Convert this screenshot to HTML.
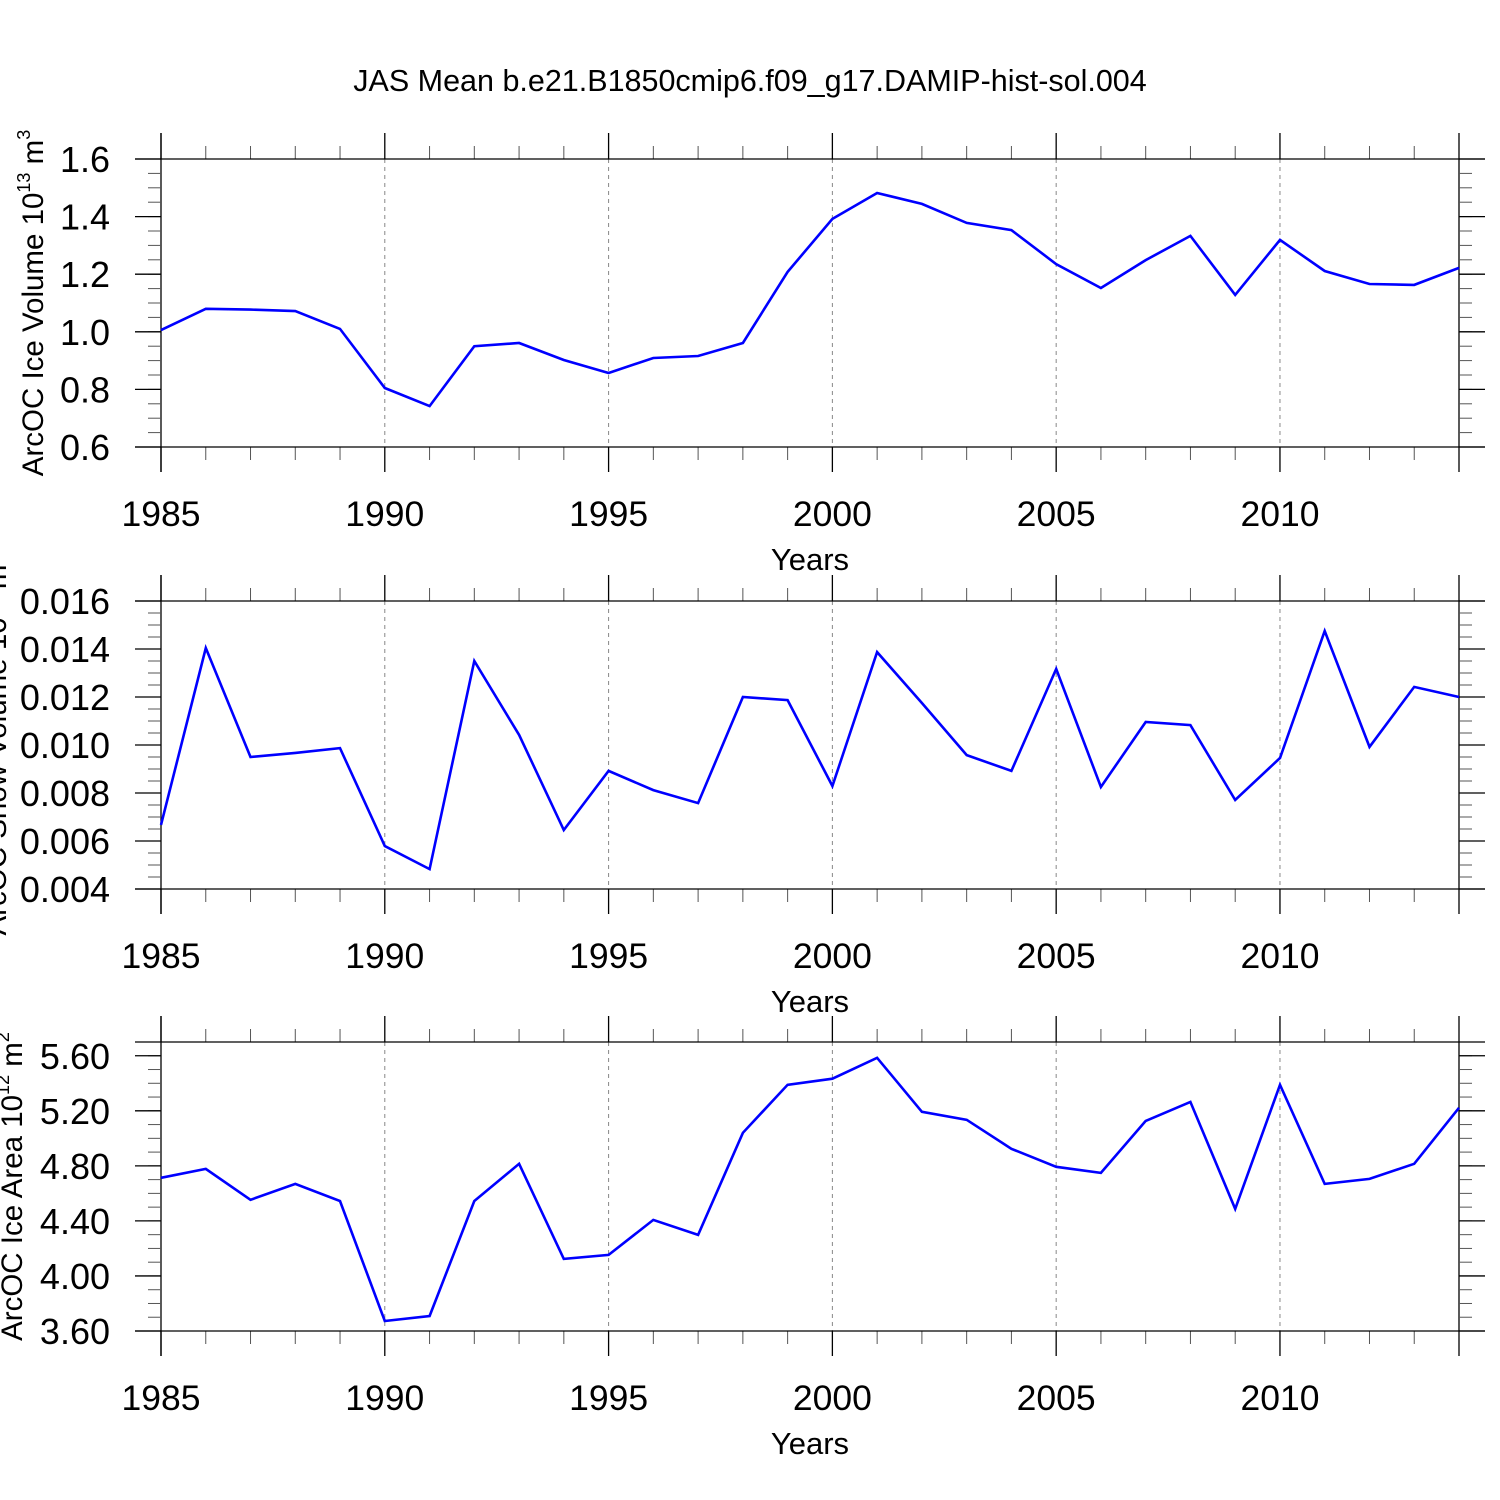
<!DOCTYPE html>
<html><head><meta charset="utf-8"><style>
html,body{margin:0;padding:0;background:#fff}
svg{display:block;font-family:"Liberation Sans",sans-serif}
</style></head><body>
<svg id="chart" width="1500" height="1500" viewBox="0 0 1500 1500">
<text x="750" y="91" font-size="30.5" text-anchor="middle">JAS Mean b.e21.B1850cmip6.f09_g17.DAMIP-hist-sol.004</text>
</svg>
<script>
const years = [1985,1986,1987,1988,1989,1990,1991,1992,1993,1994,1995,1996,1997,1998,1999,2000,2001,2002,2003,2004,2005,2006,2007,2008,2009,2010,2011,2012,2013,2014];
const iceVolume = [1.006,1.08,1.077,1.072,1.01,0.805,0.742,0.95,0.961,0.902,0.857,0.909,0.916,0.961,1.208,1.392,1.482,1.444,1.378,1.353,1.235,1.152,1.249,1.333,1.128,1.319,1.211,1.166,1.163,1.222];
const snowVolume = [0.00667,0.01404,0.0095,0.00967,0.00987,0.00579,0.00483,0.0135,0.01042,0.00646,0.00892,0.00812,0.00758,0.012,0.01187,0.00829,0.01387,0.01175,0.00958,0.00892,0.01317,0.00825,0.01096,0.01083,0.00771,0.00946,0.01475,0.00992,0.01242,0.012];
const iceArea = [4.713,4.778,4.553,4.669,4.545,3.673,3.709,4.545,4.815,4.124,4.153,4.407,4.298,5.04,5.389,5.433,5.585,5.193,5.135,4.924,4.793,4.749,5.127,5.265,4.487,5.389,4.669,4.705,4.815,5.222];
const xTickLabels = ["1985","1990","1995","2000","2005","2010"];
const volTicks = ["0.6","0.8","1.0","1.2","1.4","1.6"];
const snowTicks = ["0.004","0.006","0.008","0.010","0.012","0.014","0.016"];
const areaTicks = ["3.60","4.00","4.40","4.80","5.20","5.60"];

const NS="http://www.w3.org/2000/svg";
const svg=document.getElementById('chart');
function mk(tag,attrs,parent){const e=document.createElementNS(NS,tag);for(const k in attrs)e.setAttribute(k,attrs[k]);(parent||svg).appendChild(e);return e;}
const X0=161,X1=1459;
const xs=y=>X0+(y-1985)*(X1-X0)/(2014-1985);

function panel(cfg){
  const g=mk('g',{});
  
  
  const ys=v=>cfg.yb-(v-cfg.vmin)*(cfg.yb-cfg.yt)/(cfg.vmax-cfg.vmin);
  const topL=cfg.yt, botL=cfg.yb;
  const ax={stroke:'#000','stroke-width':1.3};
  for(let yr=1985;yr<=2014;yr++){
    const x=xs(yr);
    if(yr%5===0){
      if(yr!==1985){
        const dl=mk('line',{x1:x,x2:x,y1:topL,y2:botL,stroke:'#888','stroke-width':1,'stroke-dasharray':'4,4'},g);
        
        
      }
      mk('line',{x1:x,x2:x,y1:cfg.yt-26,y2:cfg.yt,...ax},g);
      mk('line',{x1:x,x2:x,y1:cfg.yb,y2:cfg.yb+25,...ax},g);
      const t=mk('text',{x:x,y:cfg.yb+79,'font-size':35.5,'text-anchor':'middle'},g);
      t.textContent=String(yr);
      
      
    } else {
      mk('line',{x1:x,x2:x,y1:cfg.yt-13,y2:cfg.yt,stroke:'#555','stroke-width':1},g);
      mk('line',{x1:x,x2:x,y1:cfg.yb,y2:cfg.yb+13,stroke:'#555','stroke-width':1},g);
    }
  }
  mk('line',{x1:X0,x2:X0,y1:cfg.yt-26,y2:cfg.yb+25,...ax},g);
  mk('line',{x1:X1,x2:X1,y1:cfg.yt-26,y2:cfg.yb+25,...ax},g);
  for(let v=cfg.vmin;v<=cfg.vmax+1e-9;v+=cfg.minor){
    const y=ys(v);
    mk('line',{x1:X0-13,x2:X0,y1:y,y2:y,stroke:'#555','stroke-width':1},g);
    mk('line',{x1:X1,x2:X1+13,y1:y,y2:y,stroke:'#555','stroke-width':1},g);
  }
  cfg.ticks.forEach(lbl=>{
    const y=ys(parseFloat(lbl));
    mk('line',{x1:X0-26,x2:X0,y1:y,y2:y,...ax},g);
    mk('line',{x1:X1,x2:X1+26,y1:y,y2:y,...ax},g);
    const t=mk('text',{x:110,y:y+13,'font-size':36,'text-anchor':'end'},g);
    t.textContent=lbl;
    
    
  });
  mk('line',{x1:X0-26,x2:X1+26,y1:topL,y2:topL,...ax},g);
  mk('line',{x1:X0-26,x2:X1+26,y1:botL,y2:botL,...ax},g);
  const pts=years.map((yr,i)=>xs(yr).toFixed(1)+','+ys(cfg.data[i]).toFixed(1)).join(' ');
  const pl=mk('polyline',{points:pts,fill:'none',stroke:'#0000ff','stroke-width':2.6,'stroke-linejoin':'miter'},g);
  
  
  const xt=mk('text',{x:810,y:cfg.yb+123,'font-size':31,'text-anchor':'middle'},g);
  xt.textContent='Years';
  
  
  const yt=mk('text',{transform:`translate(${cfg.ytx},${(cfg.yt+cfg.yb)/2}) rotate(-90)`,'font-size':29.5,'text-anchor':'middle'},g);
  yt.innerHTML=cfg.ytitle;
  
  
}
panel({name:'ice-volume-panel',yt:159,yb:447,vmin:0.6,vmax:1.6,minor:0.05,ticks:volTicks,data:iceVolume,ytx:43,
  ytitle:'ArcOC Ice Volume 10<tspan dy="-13" font-size="18">13</tspan><tspan dy="13"> m</tspan><tspan dy="-13" font-size="18">3</tspan>'});
panel({name:'snow-volume-panel',yt:601,yb:889,vmin:0.004,vmax:0.016,minor:0.0005,ticks:snowTicks,data:snowVolume,ytx:6,
  ytitle:'ArcOC Snow Volume 10<tspan dy="-13" font-size="18">13</tspan><tspan dy="13"> m</tspan><tspan dy="-13" font-size="18">3</tspan>'});
panel({name:'ice-area-panel',yt:1042,yb:1331,vmin:3.6,vmax:5.7,minor:0.1,ticks:areaTicks,data:iceArea,ytx:22,
  ytitle:'ArcOC Ice Area 10<tspan dy="-13" font-size="18">12</tspan><tspan dy="13"> m</tspan><tspan dy="-13" font-size="18">2</tspan>'});
</script>
</body></html>
